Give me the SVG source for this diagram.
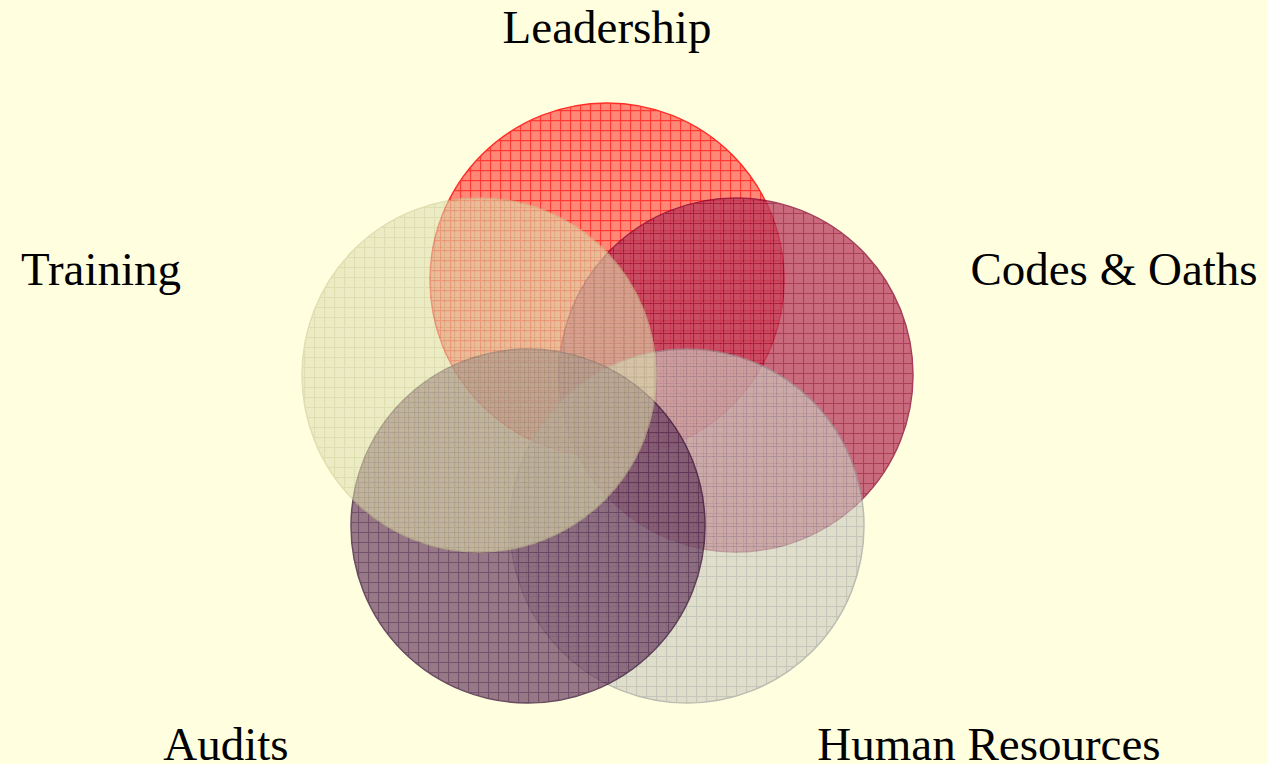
<svg xmlns="http://www.w3.org/2000/svg" width="1267" height="764" viewBox="0 0 1267 764">
<style>
text{font-family:"Liberation Serif","Times New Roman",serif;font-size:47px;fill:#000}
</style>
<defs>
<pattern id="pL" width="10" height="10" patternUnits="userSpaceOnUse"><rect width="10" height="10" fill="#ff6f60"/><path d="M0 0.5H10M0.5 0V10" stroke="#ff1010" stroke-width="1.3"/></pattern>
<pattern id="pC" width="10" height="10" patternUnits="userSpaceOnUse" x="3" y="3"><rect width="10" height="10" fill="#b83a5c"/><path d="M0 0.5H10M0.5 0V10" stroke="#90002e" stroke-width="1.2"/></pattern>
<pattern id="pH" width="10" height="10" patternUnits="userSpaceOnUse" x="6" y="6"><rect width="10" height="10" fill="#cdcdc0"/><path d="M0 0.5H10M0.5 0V10" stroke="#a8a8a8" stroke-width="1.2"/></pattern>
<pattern id="pA" width="10" height="10" patternUnits="userSpaceOnUse" x="8" y="2"><rect width="10" height="10" fill="#6a4060"/><path d="M0 0.5H10M0.5 0V10" stroke="#3a0a3a" stroke-width="1.2"/></pattern>
<pattern id="pT" width="10" height="10" patternUnits="userSpaceOnUse" x="4" y="7"><rect width="10" height="10" fill="#e0e0b0"/><path d="M0 0.5H10M0.5 0V10" stroke="#c8c890" stroke-width="1.2"/></pattern>
</defs>
<rect width="1267" height="764" fill="#ffffe0"/>
<g id="leadership"><circle cx="607" cy="280" r="177" fill="url(#pL)" opacity="0.82" stroke="#ff0000" stroke-width="1.5"/><text x="607" y="43" text-anchor="middle">Leadership</text></g>
<g id="codes"><circle cx="736" cy="375" r="177" fill="url(#pC)" opacity="0.75" stroke="#8a0030" stroke-width="1.5"/><text x="1114" y="285" text-anchor="middle">Codes &amp; Oaths</text></g>
<g id="hr"><circle cx="687" cy="526" r="177" fill="url(#pH)" opacity="0.65" stroke="#999999" stroke-width="1.5"/><text x="989" y="760" text-anchor="middle">Human Resources</text></g>
<g id="audits"><circle cx="528" cy="526" r="177" fill="url(#pA)" opacity="0.7" stroke="#2a002a" stroke-width="1.5"/><text x="226" y="760" text-anchor="middle">Audits</text></g>
<g id="training"><circle cx="479" cy="375" r="177" fill="url(#pT)" opacity="0.58" stroke="#c8c890" stroke-width="1.5"/><text x="101" y="285" text-anchor="middle">Training</text></g>
<g id="connectors"/>
</svg>
